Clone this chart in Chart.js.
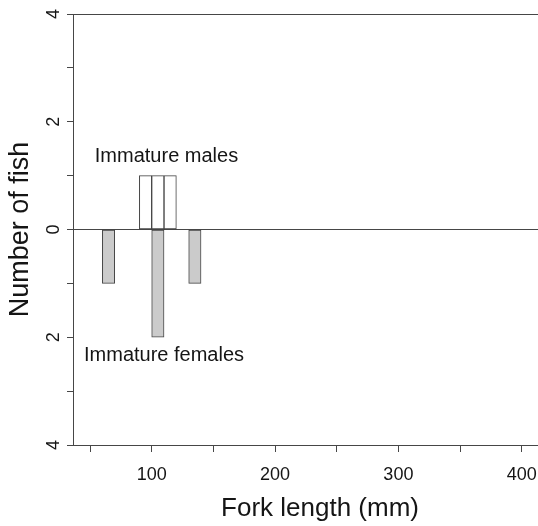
<!DOCTYPE html>
<html>
<head>
<meta charset="utf-8">
<script src="https://cdn.jsdelivr.net/npm/chart.js@4.4.1/dist/chart.umd.min.js"></script>
<style>
html,body{margin:0;padding:0;background:#fff;overflow:hidden;width:538px;height:526px}
#wrap{position:relative;width:567px;height:526px}
canvas{display:block}
</style>
</head>
<body>
<div id="wrap"><canvas id="c" width="567" height="526"></canvas></div>
<script>
// ---- data ----
const maleBins = [95, 105, 115];        // bin centres (mm)
const maleCounts = [1, 1, 1];
const femaleBins = [65, 105, 135];      // bin centres (mm)
const femaleCounts = [1, 2, 1];         // plotted downward
const xTickValues = [50, 100, 150, 200, 250, 300, 350, 400];
const xTickLabels = [100, 200, 300, 400];
const yTickValues = [-4, -3, -2, -1, 0, 1, 2, 3, 4];
const yTickLabels = [-4, -2, 0, 2, 4];
const groupLabels = ['Immature males', 'Immature females'];

// ---- style ----
const FONT = '"Liberation Sans", Arial, Helvetica, sans-serif';
const LINE = '#464646';
const TEXT = '#151515';

const maleData = maleBins.map((b, i) => ({x: b, y: maleCounts[i]}));
const femaleData = femaleBins.map((b, i) => ({x: b, y: -femaleCounts[i]}));

const labelPlugin = {
  id: 'groupLabels',
  afterDatasetsDraw(chart) {
    const {ctx, scales: {x, y}} = chart;
    const pos = [{x: 112, y: 1.36}, {x: 110, y: -2.34}];
    ctx.save();
    ctx.font = '20px ' + FONT;
    ctx.fillStyle = TEXT;
    ctx.textAlign = 'center';
    ctx.textBaseline = 'middle';
    groupLabels.forEach((t, i) => {
      ctx.fillText(t, x.getPixelForValue(pos[i].x), y.getPixelForValue(pos[i].y));
    });
    ctx.restore();
  }
};

new Chart(document.getElementById('c'), {
  type: 'bar',
  data: {
    datasets: [
      {
        label: 'Immature males',
        data: maleData,
        backgroundColor: '#ffffff',
        borderColor: LINE,
        borderWidth: 1,
        borderSkipped: false,
        barPercentage: 1,
        categoryPercentage: 1,
        grouped: false
      },
      {
        label: 'Immature females',
        data: femaleData,
        backgroundColor: '#cbcbcb',
        borderColor: LINE,
        borderWidth: 1,
        borderSkipped: false,
        barPercentage: 1,
        categoryPercentage: 1,
        grouped: false
      }
    ]
  },
  options: {
    responsive: false,
    animation: false,
    devicePixelRatio: 1,
    layout: {padding: {top: 14, right: 0, bottom: 0, left: 0}},
    plugins: {legend: {display: false}, tooltip: {enabled: false}},
    scales: {
      x: {
        type: 'linear',
        min: 36.2,
        max: 436.7,
        offset: false,
        afterBuildTicks: s => { s.ticks = xTickValues.map(v => ({value: v})); },
        ticks: {
          autoSkip: false,
          maxRotation: 0,
          padding: 12,
          color: TEXT,
          font: {family: FONT, size: 18},
          callback: v => xTickLabels.includes(v) ? String(v) : ''
        },
        grid: {offset: false, drawOnChartArea: false, drawTicks: true, tickLength: 7, tickColor: LINE, color: LINE},
        border: {display: true, color: LINE, width: 1},
        title: {display: true, text: 'Fork length (mm)', color: TEXT,
                font: {family: FONT, size: 26}, padding: {top: 0, bottom: 2}},
        afterFit: s => { s.height = 81; s.paddingLeft = 0; s.paddingRight = 0; }
      },
      y: {
        type: 'linear',
        min: -4,
        max: 4,
        afterBuildTicks: s => { s.ticks = yTickValues.map(v => ({value: v})); },
        ticks: {
          autoSkip: false,
          minRotation: 90,
          maxRotation: 90,
          crossAlign: 'center',
          padding: 8,
          color: TEXT,
          font: {family: FONT, size: 18},
          callback: v => yTickLabels.includes(v) ? String(Math.abs(v)) : ''
        },
        grid: {
          offset: false,
          drawOnChartArea: true,
          tickLength: 6,
          tickColor: LINE,
          color: c => (c.tick && [4, 0, -4].includes(c.tick.value)) ? LINE : 'rgba(0,0,0,0)'
        },
        border: {display: true, color: LINE, width: 1},
        title: {display: true, text: 'Number of fish', color: TEXT,
                font: {family: FONT, size: 27}, padding: {top: 4, bottom: 0}},
        afterFit: s => { s.width = 73; s.paddingTop = 0; s.paddingBottom = 0; }
      }
    }
  },
  plugins: [labelPlugin]
});
</script>
</body>
</html>
